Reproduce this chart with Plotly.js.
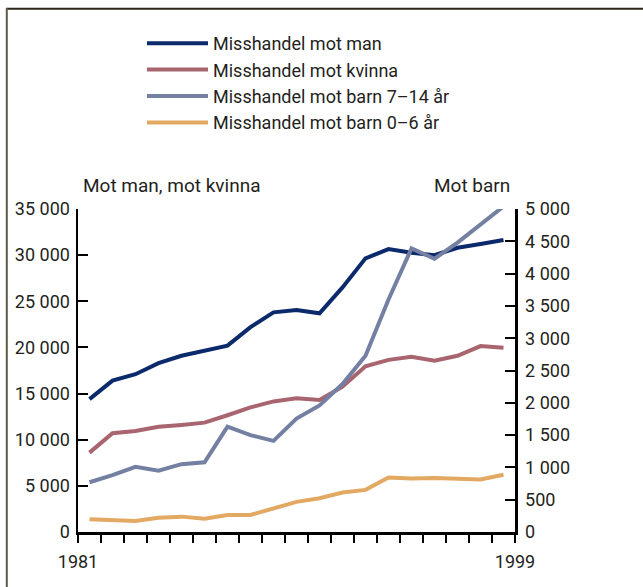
<!DOCTYPE html>
<html><head><meta charset="utf-8">
<script src="https://cdn.plot.ly/plotly-3.0.1.min.js"></script>
<style>html,body{margin:0;padding:0;background:#fff}#chart{width:643px;height:587px}</style>
</head><body><div id="chart"></div>
<script>
const years = [1981,1982,1983,1984,1985,1986,1987,1988,1989,1990,1991,1992,1993,1994,1995,1996,1997,1998,1999];
const motMan = [14400,16400,17100,18300,19100,19700,20200,22200,23800,24050,23700,26500,29650,30650,30250,30000,30800,31200,31650];
const motKvinna = [8600,10700,10950,11400,11600,11850,12650,13500,14150,14480,14300,15750,17950,18650,19000,18550,19100,20150,19970];
const barn7_14 = [770,880,1010,950,1050,1080,1630,1500,1410,1755,1960,2290,2730,3600,4390,4230,4480,4750,5040];
const barn0_6 = [197,191,171,222,238,207,264,264,370,466,523,611,652,843,828,834,823,812,885];
const seriesNames = ['Misshandel mot man','Misshandel mot kvinna','Misshandel mot barn 7\u201314 år','Misshandel mot barn 0\u20136 år'];
const leftTitle = 'Mot man, mot kvinna';
const rightTitle = 'Mot barn';
const firstLabel = '1981', lastLabel = '1999';

const colors = ['#0b2a6b','#a8656f','#7380a2','#e3a963'];
const FONT = 'Roboto, "Liberation Sans", Arial, sans-serif';
const FS = 18;
const TXT = '#231f20';

// x ticks at category boundaries
const xTickVals = [years[0]-0.5].concat(years.map(y => y+0.5));
const xTickText = xTickVals.map((v,i) => i===0 ? firstLabel : (i===xTickVals.length-1 ? lastLabel : ''));

const traces = [
  {x: years, y: motMan, name: seriesNames[0], yaxis: 'y', line:{color:colors[0], width:4}},
  {x: years, y: motKvinna, name: seriesNames[1], yaxis: 'y', line:{color:colors[1], width:4}},
  {x: years, y: barn7_14, name: seriesNames[2], yaxis: 'y2', line:{color:colors[2], width:4}},
  {x: years, y: barn0_6, name: seriesNames[3], yaxis: 'y2', line:{color:colors[3], width:4}}
].map(t => Object.assign({type:'scatter', mode:'lines', hoverinfo:'skip'}, t));

const L = 78, R = 128, T = 209, B = 55;
const pw = 643 - L - R, ph = 587 - T - B;
const px = v => (v - L) / pw;
const py = v => (587 - B - v) / ph;

const layout = {
  width: 643, height: 587,
  margin: {l: L, r: R, t: T, b: B, pad: 0},
  paper_bgcolor: '#fff', plot_bgcolor: '#fff',
  separators: '. ',
  font: {family: FONT, size: FS, color: TXT},
  showlegend: true,
  legend: {x: px(142), y: py(25), xanchor: 'left', yanchor: 'top', bgcolor: 'rgba(0,0,0,0)',
           itemwidth: 61, font: {family: FONT, size: FS, color: TXT}, tracegroupgap: 0, itemclick: false},
  xaxis: {range: [years[0]-0.5, years[years.length-1]+0.5], tickmode: 'array', tickvals: xTickVals, ticktext: xTickText,
          showgrid: false, zeroline: false, showline: true, linecolor: '#000', linewidth: 2.5,
          ticks: 'outside', ticklen: 8, tickwidth: 2, tickcolor: '#000', ticklabelstandoff: 4,
          tickfont: {family: FONT, size: FS, color: TXT}},
  yaxis: {range: [0, 35000], tickmode: 'linear', tick0: 0, dtick: 5000, tickformat: ',d',
          showgrid: false, zeroline: false, showline: true, linecolor: '#000', linewidth: 2.5,
          ticks: 'inside', ticklen: 10, tickwidth: 2, tickcolor: '#000', ticklabelstandoff: 2,
          tickfont: {family: FONT, size: FS, color: TXT}},
  yaxis2: {range: [0, 5000], overlaying: 'y', side: 'right', tickmode: 'linear', tick0: 0, dtick: 500, tickformat: ',d',
          showgrid: false, zeroline: false, showline: true, linecolor: '#000', linewidth: 2.5,
          ticks: 'inside', ticklen: 10, tickwidth: 2, tickcolor: '#000', ticklabelstandoff: 4,
          tickfont: {family: FONT, size: FS, color: TXT}},
  annotations: [
    {text: leftTitle, xref: 'paper', yref: 'paper', x: px(81), y: py(185), xanchor: 'left', yanchor: 'middle', showarrow: false,
     font: {family: FONT, size: 19, color: TXT}},
    {text: rightTitle, xref: 'paper', yref: 'paper', x: px(512), y: py(185), xanchor: 'right', yanchor: 'middle', showarrow: false,
     font: {family: FONT, size: 19, color: TXT}}
  ],
  shapes: [
    {type: 'line', xref: 'paper', yref: 'paper', x0: px(6), x1: px(643), y0: py(8.7), y1: py(8.7), line: {color: '#2b2418', width: 2}},
    {type: 'line', xref: 'paper', yref: 'paper', x0: px(6.8), x1: px(6.8), y0: py(8), y1: py(587), line: {color: '#5f5a4a', width: 2}}
  ]
};

Plotly.newPlot('chart', traces, layout, {staticPlot: true, displayModeBar: false});
</script></body></html>
